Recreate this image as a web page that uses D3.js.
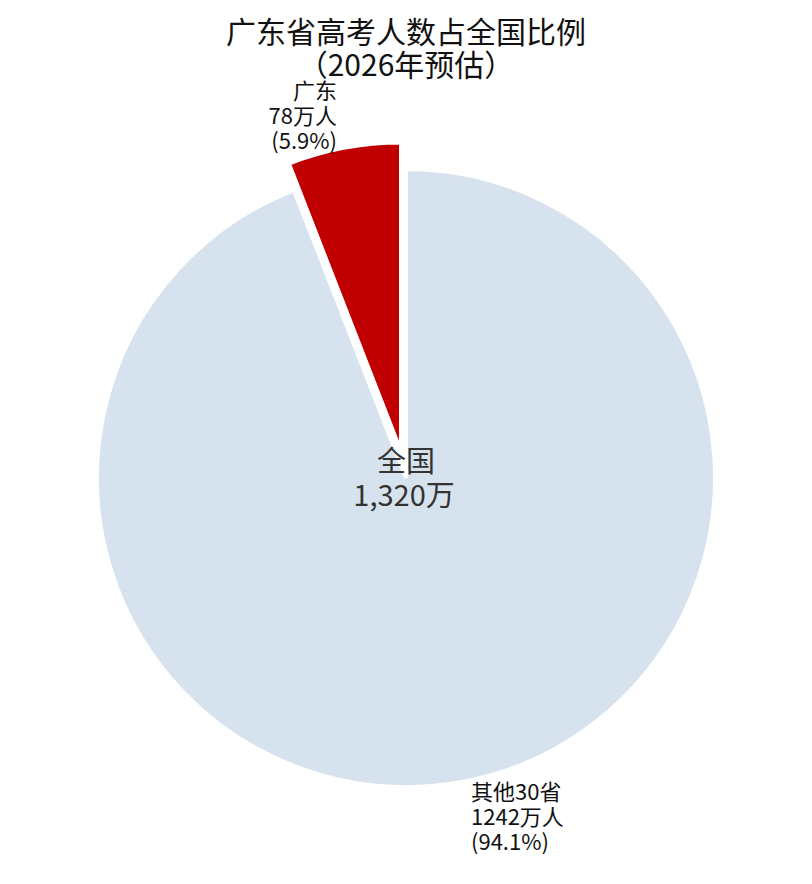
<!DOCTYPE html>
<html>
<head>
<meta charset="utf-8">
<script src="https://cdn.jsdelivr.net/npm/d3@7"></script>
<style>
  body { margin: 0; background: #fff; }
  text { font-family: "Noto Sans CJK SC", "Noto Sans", sans-serif; }
</style>
</head>
<body>
<svg width="812" height="884"></svg>
<script>
// data
var names = ['其他30省', '广东'];
var values = [1242, 78];          // 万人
var pcts = ['94.1%', '5.9%'];
var total = 1320;
var colors = ['#d6e3ee', '#c00000'];

var svg = d3.select('svg');
var cx = 406, cy = 478, r = 309;

// title
svg.append('text')
    .attr('x', 406).attr('y', 43)
    .attr('text-anchor', 'middle')
    .attr('font-size', 30)
    .attr('fill', '#111')
    .text('广东省高考人数占全国比例');
svg.append('text')
    .attr('x', 406).attr('y', 76)
    .attr('text-anchor', 'middle')
    .attr('font-size', 30)
    .attr('fill', '#111')
    .text('（2026年预估）');

var pie = d3.pie().sort(null).value(function(d){ return d; });
var arcs = pie(values);
var arc = d3.arc().innerRadius(0).outerRadius(r);

var g = svg.append('g').attr('transform', 'translate(' + cx + ',' + cy + ')');

// slices, guangdong pulled out along its middle angle
g.selectAll('path')
    .data(arcs)
    .enter()
    .append('path')
    .attr('d', arc)
    .attr('fill', function(d, i){ return colors[i]; })
    .attr('stroke', '#fff')
    .attr('stroke-width', 4)
    .attr('transform', function(d, i){
        if (i == 0) return null;
        var a = (d.startAngle + d.endAngle) / 2;
        var off = 27;
        return 'translate(' + (Math.sin(a) * off) + ',' + (-Math.cos(a) * off) + ')';
    });

// center label
g.append('text')
    .attr('x', 0).attr('y', -6)
    .attr('text-anchor', 'middle')
    .attr('font-size', 29)
    .attr('fill', '#333')
    .text('全国');
g.append('text')
    .attr('x', -2).attr('y', 28)
    .attr('text-anchor', 'middle')
    .attr('font-size', 29)
    .attr('fill', '#333')
    .text(d3.format(',')(total) + '万');

// guangdong label (above left of slice)
var gd = svg.append('text')
    .attr('text-anchor', 'end')
    .attr('font-size', 22)
    .attr('fill', '#111');
[names[1], values[1] + '万人', '(' + pcts[1] + ')'].forEach(function(s, i){
    gd.append('tspan').attr('x', 337).attr('y', 99 + i * 25).text(s);
});

// others label (below right)
var ot = svg.append('text')
    .attr('text-anchor', 'start')
    .attr('font-size', 22)
    .attr('fill', '#111');
[names[0], values[0] + '万人', '(' + pcts[0] + ')'].forEach(function(s, i){
    ot.append('tspan').attr('x', 471).attr('y', 800 + i * 25).text(s);
});
</script>
</body>
</html>
